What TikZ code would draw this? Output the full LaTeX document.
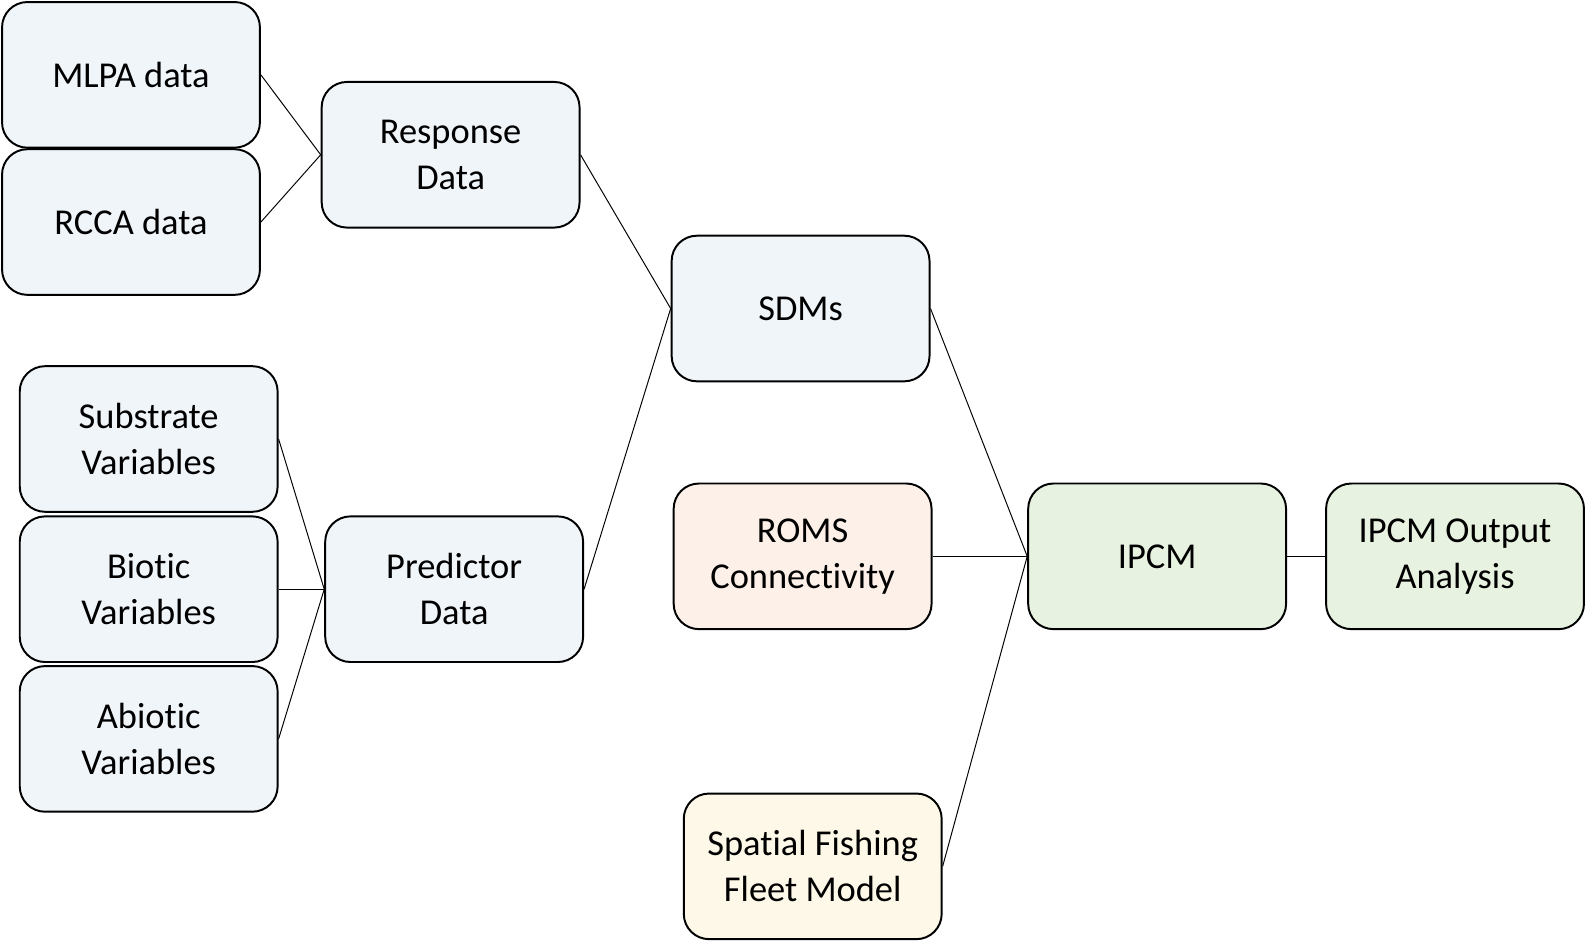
\documentclass[tikz,border=0pt]{standalone}
\usepackage{fontspec}
\setmainfont{Carlito}[Ligatures=NoCommon]
\definecolor{boxblue}{HTML}{F0F5FA}
\definecolor{boxpeach}{HTML}{FCF0E9}
\definecolor{boxyellow}{HTML}{FEF8E8}
\definecolor{boxgreen}{HTML}{E8F2E1}
\begin{document}
\begin{tikzpicture}[
    x=0.02cm, y=-0.02cm,
    every node/.style={rectangle, rounded corners=0.5cm, draw, line width=1.1pt,
        minimum width=5.1cm, minimum height=2.88cm, align=center,
        font=\fontsize{20.5}{25.8}\selectfont},
    blu/.style={fill=boxblue},
    pesca/.style={fill=boxpeach},
    giallo/.style={fill=boxyellow},
    verde/.style={fill=boxgreen},
    link/.style={line width=0.55pt}
]
\useasboundingbox (0,0) rectangle (1568,931);
% Dati di risposta
\node[blu] (mlpa) at (129.5,74) {MLPA data};
\node[blu] (rcca) at (129.5,219.5) {RCCA data};
\node[blu] (resp) at (445.5,153) {Response\\Data};

% Dati predittori
\node[blu] (subs) at (147,434) {Substrate\\Variables};
\node[blu] (biot) at (147,582.5) {Biotic\\Variables};
\node[blu] (abio) at (147,730.5) {Abiotic\\Variables};
\node[blu] (pred) at (449,582.5) {Predictor\\Data};

% Modelli
\node[blu] (sdm) at (791.5,305) {SDMs};
\node[pesca] (roms) at (793.5,550) {ROMS\\Connectivity};
\node[giallo] (fleet) at (803.5,856.5) {Spatial Fishing\\Fleet Model};
\node[verde] (ipcm) at (1144,550) {IPCM};
\node[verde] (out) at (1438.5,550) {IPCM Output\\Analysis};

\draw[link] (mlpa.east) -- (resp.west);
\draw[link] (rcca.east) -- (resp.west);
\draw[link] (subs.east) -- (pred.west);
\draw[link] (biot.east) -- (pred.west);
\draw[link] (abio.east) -- (pred.west);
\draw[link] (resp.east) -- (sdm.west);
\draw[link] (pred.east) -- (sdm.west);
\draw[link] (sdm.east) -- (ipcm.west);
\draw[link] (roms.east) -- (ipcm.west);
\draw[link] (fleet.east) -- (ipcm.west);
\draw[link] (ipcm.east) -- (out.west);
\end{tikzpicture}
\end{document}
